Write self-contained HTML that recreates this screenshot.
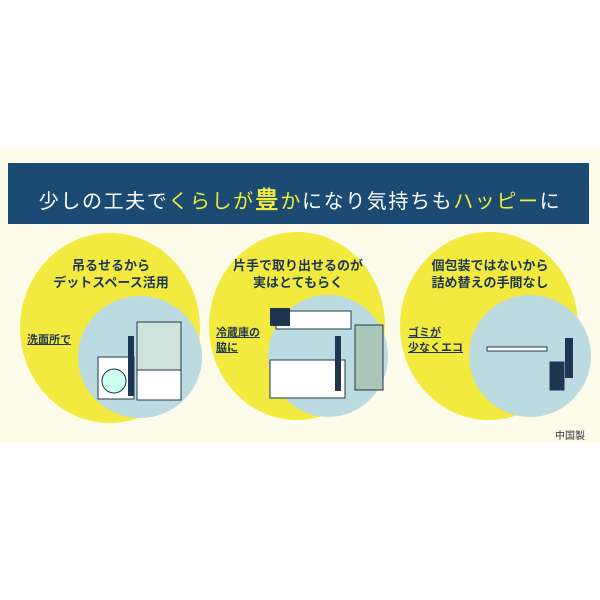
<!DOCTYPE html>
<html><head><meta charset="utf-8"><style>
body{margin:0;width:600px;height:600px;background:#fff;position:relative;overflow:hidden;font-family:"Liberation Sans","Noto Sans CJK JP",sans-serif}
.t{position:absolute;white-space:nowrap;color:#1f3650;font-weight:bold}
.c{transform:translateX(-50%);text-align:center;font-size:13px;line-height:17px}
.u{font-size:11px;line-height:15px;text-decoration:underline}
</style></head><body>
<div style="position:absolute;left:0;top:147px;width:600px;height:296px;background:#fdfbe9"></div>
<div style="position:absolute;left:8px;top:163px;width:581px;height:61px;background:#1b4a72"></div>
<div class="t" style="left:300px;top:180px;transform:translateX(-50%);font-size:20px;letter-spacing:1.6px;color:#fff;font-weight:normal">少しの工夫で<span style="color:#f0ea3c">くらしが<b style="font-size:24px">豊</b>か</span>になり気持ちも<span style="color:#f0ea3c">ハッピー</span>に</div>
<svg style="position:absolute;left:0;top:0" width="600" height="600">
<ellipse cx="110" cy="328" rx="90" ry="95" fill="#f2ea3f"/>
<ellipse cx="297" cy="326" rx="88" ry="94" fill="#f2ea3f"/>
<ellipse cx="489" cy="326" rx="89" ry="94" fill="#f2ea3f"/>
<ellipse cx="140" cy="357" rx="62" ry="61" fill="#bcdbe0"/>
<ellipse cx="328" cy="356" rx="60" ry="61" fill="#bcdbe0"/>
<ellipse cx="530" cy="356" rx="61" ry="61" fill="#bcdbe0"/>
<g fill="#fff" stroke="#1f3650" stroke-width="1">
<rect x="98" y="357" width="36" height="42"/><circle cx="114" cy="381" r="12" fill="#cfe"/>
<rect x="137" y="370" width="44" height="30"/><rect x="137" y="322" width="44" height="48" fill="#cfe3dd"/>
<rect x="276" y="311" width="75" height="18"/><rect x="270" y="360" width="75" height="38"/>
<rect x="355" y="325" width="28" height="65" fill="#a9c6b8"/>
<rect x="487" y="347" width="60" height="4"/><rect x="550" y="362" width="14" height="28" fill="#1f3650"/>
</g>
<rect x="270" y="308" width="20" height="18" fill="#1f3650"/>
<rect x="128" y="336" width="6" height="60" fill="#1f3650"/>
<rect x="335" y="336" width="6" height="55" fill="#1f3650"/>
<rect x="565" y="338" width="8" height="40" fill="#1f3650"/>
</svg>
<div class="t c" style="left:111px;top:257px">吊るせるから<br>デットスペース活用</div>
<div class="t c" style="left:298px;top:257px">片手で取り出せるのが<br>実はとてもらく</div>
<div class="t c" style="left:490px;top:257px">個包装ではないから<br>詰め替えの手間なし</div>
<div class="t u" style="left:27px;top:333px">洗面所で</div>
<div class="t u" style="left:216px;top:326px">冷蔵庫の<br>脇に</div>
<div class="t u" style="left:408px;top:326px">ゴミが<br>少なくエコ</div>
<div class="t" style="left:555px;top:427px;font-size:10px;font-weight:normal;color:#333">中国製</div>
</body></html>
